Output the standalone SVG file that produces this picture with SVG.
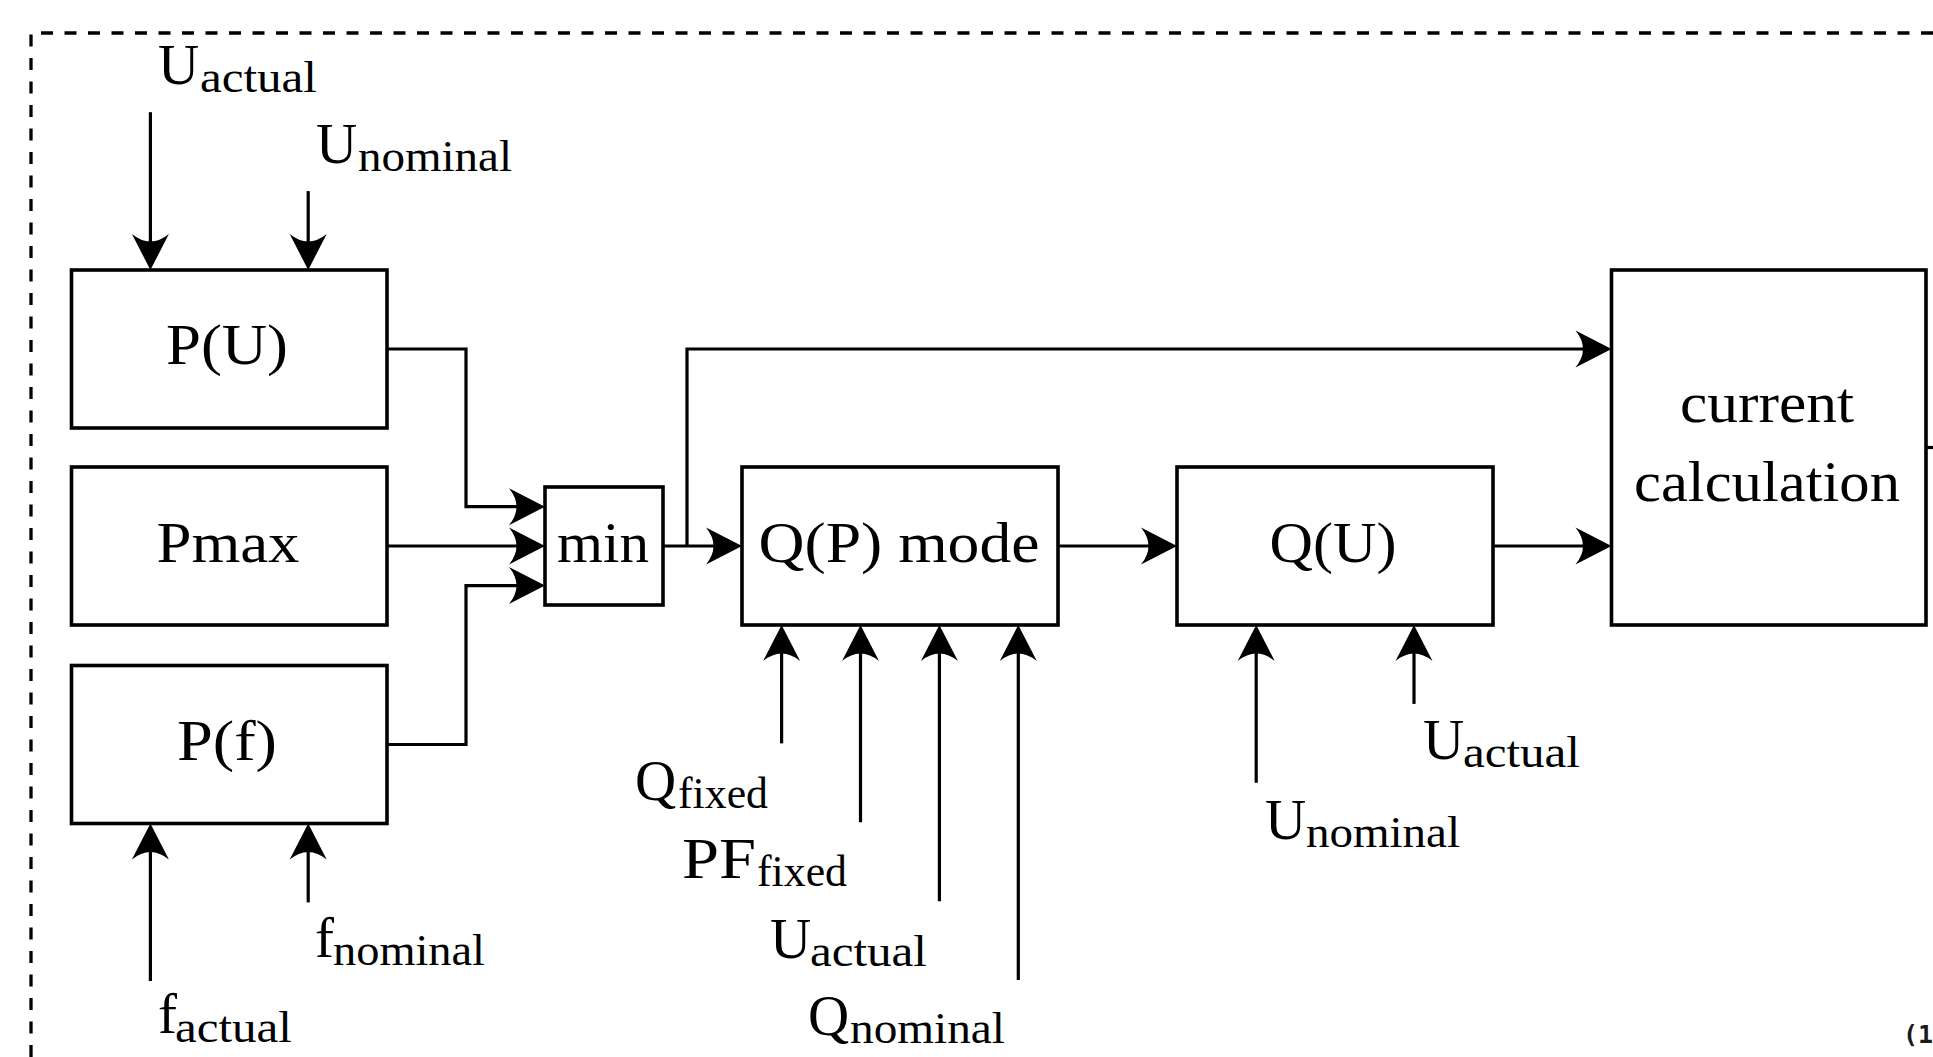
<svg xmlns="http://www.w3.org/2000/svg" width="1933" height="1057" viewBox="0 0 1933 1057">
<style>
.box{fill:#fff;stroke:#000;stroke-width:3.6}
.ln{fill:none;stroke:#000;stroke-width:3.2}
.arr{marker-end:url(#ah)}
.dash{fill:none;stroke:#000;stroke-width:3.3;stroke-dasharray:12 11.5}
text{font-family:"Liberation Serif","Times New Roman",serif;fill:#000}
.m{font-size:57px}
.c{text-anchor:middle}
.s{font-size:44px}
.note{font-family:"DejaVu Sans Mono","Liberation Mono",monospace;font-weight:bold;font-size:25px;fill:#1a1a1a}
</style>
<defs>
<marker id="ah" markerUnits="userSpaceOnUse" viewBox="-32 -20 40 40" markerWidth="40" markerHeight="40" refX="0" refY="0" orient="auto">
<path d="M6,0 L-30,-18.5 Q-15,0 -30,18.5 Z" fill="#000"/>
</marker>
</defs>
<rect width="1933" height="1057" fill="#fff"/>
<path class="dash" d="M31,1057 V33 H1933"/>

<g id="connectors">
<path class="ln arr" d="M150.4,112.2 V264"/>
<path class="ln arr" d="M308.2,191.1 V264"/>
<path class="ln arr" d="M387,349 H466 V506.7 H539"/>
<path class="ln arr" d="M387,546 H539"/>
<path class="ln arr" d="M387,744.5 H466 V585.6 H539"/>
<path class="ln arr" d="M663,546 H736"/>
<path class="ln arr" d="M687,546 V349 H1605.5"/>
<path class="ln arr" d="M1058,546 H1171"/>
<path class="ln arr" d="M1493,546 H1605.5"/>
<path class="ln" d="M1926,447.5 H1933"/>
<path class="ln arr" d="M150.4,981 V829.5"/>
<path class="ln arr" d="M308.2,902.4 V829.5"/>
<path class="ln arr" d="M781.6,743.4 V631"/>
<path class="ln arr" d="M860.5,822.3 V631"/>
<path class="ln arr" d="M939.4,901.2 V631"/>
<path class="ln arr" d="M1018.3,980.1 V631"/>
<path class="ln arr" d="M1256.2,782.8 V631"/>
<path class="ln arr" d="M1414,703.9 V631"/>
</g>

<g id="node-pu">
<rect class="box" x="71.5" y="270" width="315.5" height="158"/>
<text class="m c" x="227" y="364" textLength="122" lengthAdjust="spacingAndGlyphs">P(U)</text>
</g>
<g id="node-pmax">
<rect class="box" x="71.5" y="467" width="315.5" height="158"/>
<text class="m c" x="228" y="562" textLength="143" lengthAdjust="spacingAndGlyphs">Pmax</text>
</g>
<g id="node-pf">
<rect class="box" x="71.5" y="665.5" width="315.5" height="158"/>
<text class="m c" x="227" y="760" textLength="100" lengthAdjust="spacingAndGlyphs">P(f)</text>
</g>
<g id="node-min">
<rect class="box" x="545" y="487" width="118" height="118"/>
<text class="m c" x="603" y="562" textLength="92" lengthAdjust="spacingAndGlyphs">min</text>
</g>
<g id="node-qp">
<rect class="box" x="742" y="467" width="316" height="158"/>
<text class="m c" x="899" y="562" textLength="281" lengthAdjust="spacingAndGlyphs">Q(P) mode</text>
</g>
<g id="node-qu">
<rect class="box" x="1177" y="467" width="316" height="158"/>
<text class="m c" x="1333" y="562" textLength="127" lengthAdjust="spacingAndGlyphs">Q(U)</text>
</g>
<g id="node-current">
<rect class="box" x="1611.5" y="270" width="314.5" height="355"/>
<text class="m c" x="1767" y="422" textLength="174" lengthAdjust="spacingAndGlyphs">current</text>
<text class="m c" x="1767" y="501" textLength="266" lengthAdjust="spacingAndGlyphs">calculation</text>
</g>

<g id="labels">
<text class="m" x="158" y="84">U<tspan class="s" x="200" y="92" textLength="117" lengthAdjust="spacingAndGlyphs">actual</tspan></text>
<text class="m" x="316" y="163">U<tspan class="s" x="358" y="171" textLength="154" lengthAdjust="spacingAndGlyphs">nominal</tspan></text>
<text class="m" x="158" y="1033">f<tspan class="s" x="175" y="1042" textLength="117" lengthAdjust="spacingAndGlyphs">actual</tspan></text>
<text class="m" x="315" y="957">f<tspan class="s" x="333" y="965" textLength="152" lengthAdjust="spacingAndGlyphs">nominal</tspan></text>
<text class="m" x="635" y="800">Q<tspan class="s" x="678" y="808" textLength="90" lengthAdjust="spacingAndGlyphs">fixed</tspan></text>
<text class="m" x="682" y="878"><tspan textLength="74" lengthAdjust="spacingAndGlyphs">PF</tspan><tspan class="s" x="757" y="886" textLength="90" lengthAdjust="spacingAndGlyphs">fixed</tspan></text>
<text class="m" x="770" y="958">U<tspan class="s" x="810" y="966" textLength="117" lengthAdjust="spacingAndGlyphs">actual</tspan></text>
<text class="m" x="808" y="1035">Q<tspan class="s" x="850" y="1043" textLength="155" lengthAdjust="spacingAndGlyphs">nominal</tspan></text>
<text class="m" x="1423" y="759">U<tspan class="s" x="1463" y="767" textLength="117" lengthAdjust="spacingAndGlyphs">actual</tspan></text>
<text class="m" x="1265" y="839">U<tspan class="s" x="1306" y="847" textLength="154" lengthAdjust="spacingAndGlyphs">nominal</tspan></text>
</g>
<text class="note" x="1903" y="1043">(1</text>
</svg>
